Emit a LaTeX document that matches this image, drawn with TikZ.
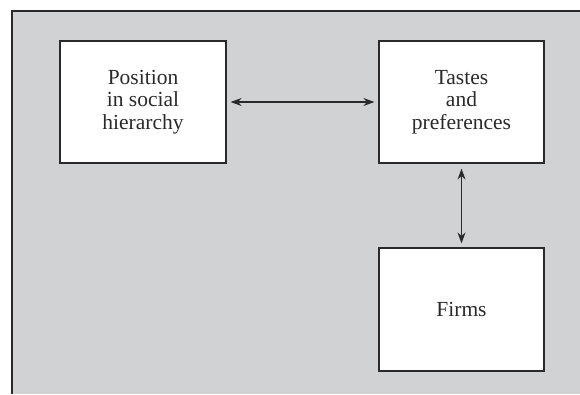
\documentclass[tikz,border=0pt]{standalone}
\usepackage{fontspec}
\setmainfont{Liberation Serif}
\usetikzlibrary{arrows.meta}
\definecolor{bggray}{HTML}{D1D2D4}
\definecolor{ink}{HTML}{2A2A2A}
\begin{document}
\begin{tikzpicture}[x=1pt,y=-1pt,
  box/.style={draw=ink,line width=1.2pt,fill=white,inner sep=0pt,
    align=center,font=\fontsize{21.5}{22.5}\selectfont,text=ink},
  link/.style={draw=ink,line width=1.1pt,
    {Stealth[length=11pt,width=8pt]}-{Stealth[length=11pt,width=8pt]}}]
\useasboundingbox (0,0) rectangle (580,394);
\fill[bggray] (12,11) rectangle (580,394);
\draw[ink,line width=1.5pt] (12,394) -- (12,11) -- (580,11);
\node[box,minimum width=166pt,minimum height=122pt] (pos) at (143,102)
  {Position\\in social\\hierarchy};
\node[box,minimum width=165pt,minimum height=122pt] (taste) at (461.5,102)
  {Tastes\\and\\preferences};
\node[box,minimum width=165pt,minimum height=123pt] (firms) at (461.5,309.5)
  {Firms};
\draw[link,shorten <=4pt,shorten >=4pt] (pos.east) -- (taste.west);
\draw[link,shorten <=5pt,shorten >=4pt] (taste.south) -- (firms.north);
\end{tikzpicture}
\end{document}
